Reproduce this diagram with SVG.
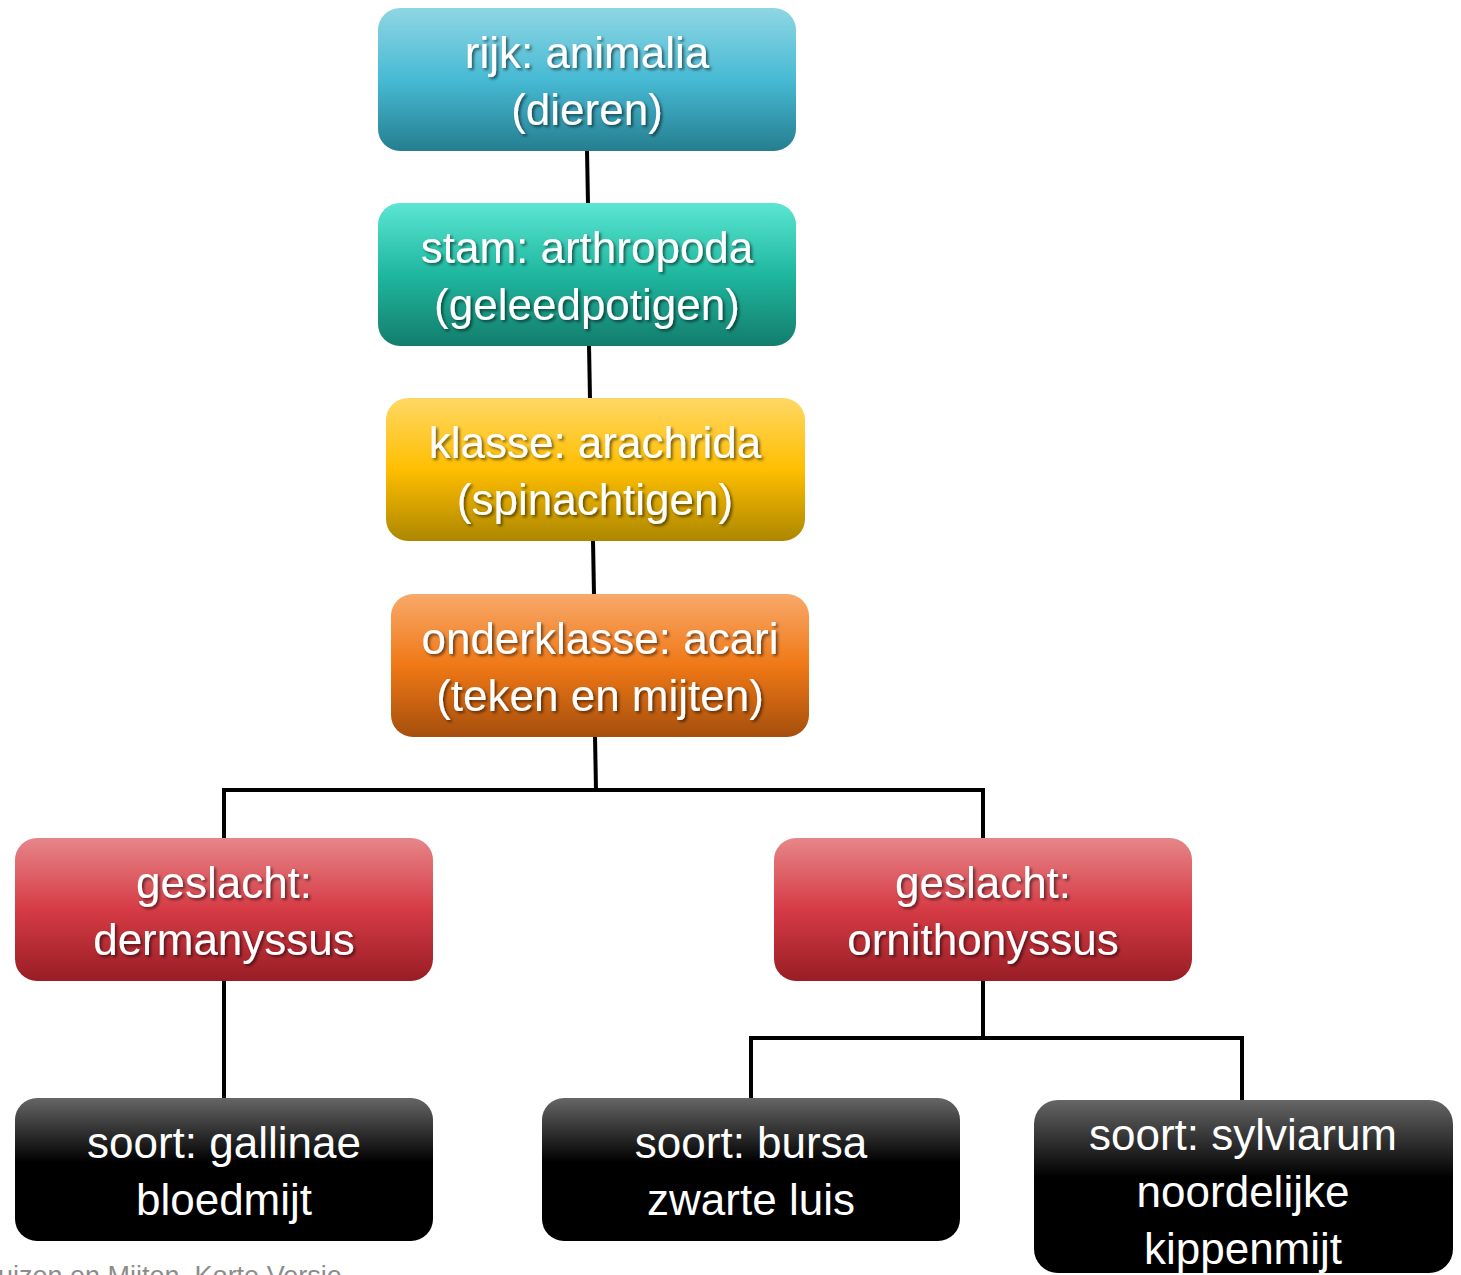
<svg xmlns="http://www.w3.org/2000/svg" width="1461" height="1275" viewBox="0 0 1461 1275">
<style>
.t{font-family:"Liberation Sans","Noto Sans",sans-serif;font-size:44px;fill:#fff;text-anchor:middle}
.sh{filter:url(#ts)}
.c{stroke:#000;stroke-width:4;fill:none}
.foot{font-family:"Liberation Sans",sans-serif;font-size:27px;fill:#8c8c8c}
</style>
<defs>
<filter id="ts" x="-10%" y="-20%" width="120%" height="150%">
<feDropShadow dx="2" dy="2" stdDeviation="1.5" flood-color="#000" flood-opacity="0.55"/>
</filter>
<linearGradient id="gBlue" x1="0" y1="0" x2="0" y2="1">
<stop offset="0" stop-color="#8FD6E3"/><stop offset="0.5" stop-color="#47BAD4"/><stop offset="1" stop-color="#257E90"/>
</linearGradient>
<linearGradient id="gTeal" x1="0" y1="0" x2="0" y2="1">
<stop offset="0" stop-color="#5BE6D2"/><stop offset="0.5" stop-color="#1FB79F"/><stop offset="1" stop-color="#137D6C"/>
</linearGradient>
<linearGradient id="gGold" x1="0" y1="0" x2="0" y2="1">
<stop offset="0" stop-color="#FFD865"/><stop offset="0.5" stop-color="#FFBE00"/><stop offset="1" stop-color="#AC8700"/>
</linearGradient>
<linearGradient id="gOrange" x1="0" y1="0" x2="0" y2="1">
<stop offset="0" stop-color="#F8A96A"/><stop offset="0.5" stop-color="#F07816"/><stop offset="1" stop-color="#A54F0D"/>
</linearGradient>
<linearGradient id="gRed" x1="0" y1="0" x2="0" y2="1">
<stop offset="0" stop-color="#E68689"/><stop offset="0.5" stop-color="#D63B45"/><stop offset="1" stop-color="#981D24"/>
</linearGradient>
<linearGradient id="gBlack" x1="0" y1="0" x2="0" y2="1">
<stop offset="0" stop-color="#666"/><stop offset="0.45" stop-color="#000"/><stop offset="1" stop-color="#000"/>
</linearGradient>
</defs>
<g id="connectors">
<line class="c" x1="587" y1="150" x2="588" y2="204"/>
<line class="c" x1="589" y1="345" x2="590" y2="399"/>
<line class="c" x1="593" y1="540" x2="594" y2="595"/>
<line class="c" x1="595" y1="736" x2="596" y2="790"/>
<polyline class="c" points="224,838 224,790 983,790 983,838"/>
<line class="c" x1="224" y1="980" x2="224" y2="1099"/>
<line class="c" x1="983" y1="980" x2="983" y2="1038"/>
<polyline class="c" points="751,1099 751,1038 1242,1038 1242,1101"/>
</g>
<g id="n-rijk">
<rect x="378" y="8" width="418" height="143" rx="22" fill="url(#gBlue)"/>
<text class="t sh" x="587" y="68">rijk: animalia</text>
<text class="t sh" x="587" y="125">(dieren)</text>
</g>
<g id="n-stam">
<rect x="378" y="203" width="418" height="143" rx="22" fill="url(#gTeal)"/>
<text class="t sh" x="587" y="263">stam: arthropoda</text>
<text class="t sh" x="587" y="320">(geleedpotigen)</text>
</g>
<g id="n-klasse">
<rect x="386" y="398" width="419" height="143" rx="22" fill="url(#gGold)"/>
<text class="t sh" x="595" y="458">klasse: arachrida</text>
<text class="t sh" x="595" y="515">(spinachtigen)</text>
</g>
<g id="n-onderklasse">
<rect x="391" y="594" width="418" height="143" rx="22" fill="url(#gOrange)"/>
<text class="t sh" x="600" y="654">onderklasse: acari</text>
<text class="t sh" x="600" y="711">(teken en mijten)</text>
</g>
<g id="n-dermanyssus">
<rect x="15" y="838" width="418" height="143" rx="22" fill="url(#gRed)"/>
<text class="t sh" x="224" y="898">geslacht:</text>
<text class="t sh" x="224" y="955">dermanyssus</text>
</g>
<g id="n-ornithonyssus">
<rect x="774" y="838" width="418" height="143" rx="22" fill="url(#gRed)"/>
<text class="t sh" x="983" y="898">geslacht:</text>
<text class="t sh" x="983" y="955">ornithonyssus</text>
</g>
<g id="n-gallinae">
<rect x="15" y="1098" width="418" height="143" rx="22" fill="url(#gBlack)"/>
<text class="t" x="224" y="1158">soort: gallinae</text>
<text class="t" x="224" y="1215">bloedmijt</text>
</g>
<g id="n-bursa">
<rect x="542" y="1098" width="418" height="143" rx="22" fill="url(#gBlack)"/>
<text class="t" x="751" y="1158">soort: bursa</text>
<text class="t" x="751" y="1215">zwarte luis</text>
</g>
<g id="n-sylviarum">
<rect x="1034" y="1100" width="419" height="173" rx="24" fill="url(#gBlack)"/>
<text class="t" x="1243" y="1150">soort: sylviarum</text>
<text class="t" x="1243" y="1207">noordelijke</text>
<text class="t" x="1243" y="1264">kippenmijt</text>
</g>
<text class="foot" x="-2" y="1285">uizen en Mijten, Korte Versie</text>
</svg>
